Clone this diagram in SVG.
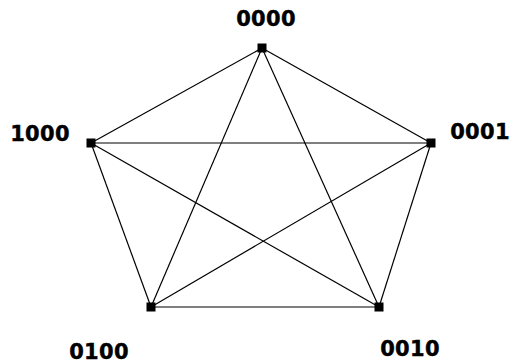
<svg xmlns="http://www.w3.org/2000/svg" width="512" height="364" viewBox="0 0 512 364">
<style>
.e{stroke:#000;stroke-width:1.2;fill:none}
.n{fill:#000}
.t{font-family:"DejaVu Sans",Verdana,sans-serif;font-weight:bold;font-size:21px;fill:#000;text-anchor:middle;letter-spacing:0.3px;stroke:#000;stroke-width:0.4px}
</style>
<rect width="512" height="364" fill="#fff"/>
<g id="edges">
<line class="e" x1="262" y1="48" x2="91" y2="143"/>
<line class="e" x1="262" y1="48" x2="431" y2="143"/>
<line class="e" x1="262" y1="48" x2="151" y2="307"/>
<line class="e" x1="262" y1="48" x2="379" y2="307"/>
<line class="e" x1="91" y1="143" x2="431" y2="143"/>
<line class="e" x1="91" y1="143" x2="151" y2="307"/>
<line class="e" x1="91" y1="143" x2="379" y2="307"/>
<line class="e" x1="431" y1="143" x2="151" y2="307"/>
<line class="e" x1="431" y1="143" x2="379" y2="307"/>
<line class="e" x1="151" y1="307" x2="379" y2="307"/>
</g>
<g id="n0000"><rect class="n" x="257.5" y="43.5" width="9" height="9"/><text class="t" x="266" y="25.5">0000</text></g>
<g id="n1000"><rect class="n" x="86.5" y="138.5" width="9" height="9"/><text class="t" x="40" y="140.5">1000</text></g>
<g id="n0001"><rect class="n" x="426.5" y="138.5" width="9" height="9"/><text class="t" x="480" y="138.5">0001</text></g>
<g id="n0100"><rect class="n" x="146.5" y="302.5" width="9" height="9"/><text class="t" x="99" y="358.5">0100</text></g>
<g id="n0010"><rect class="n" x="374.5" y="302.5" width="9" height="9"/><text class="t" x="410" y="355.5">0010</text></g>
</svg>
